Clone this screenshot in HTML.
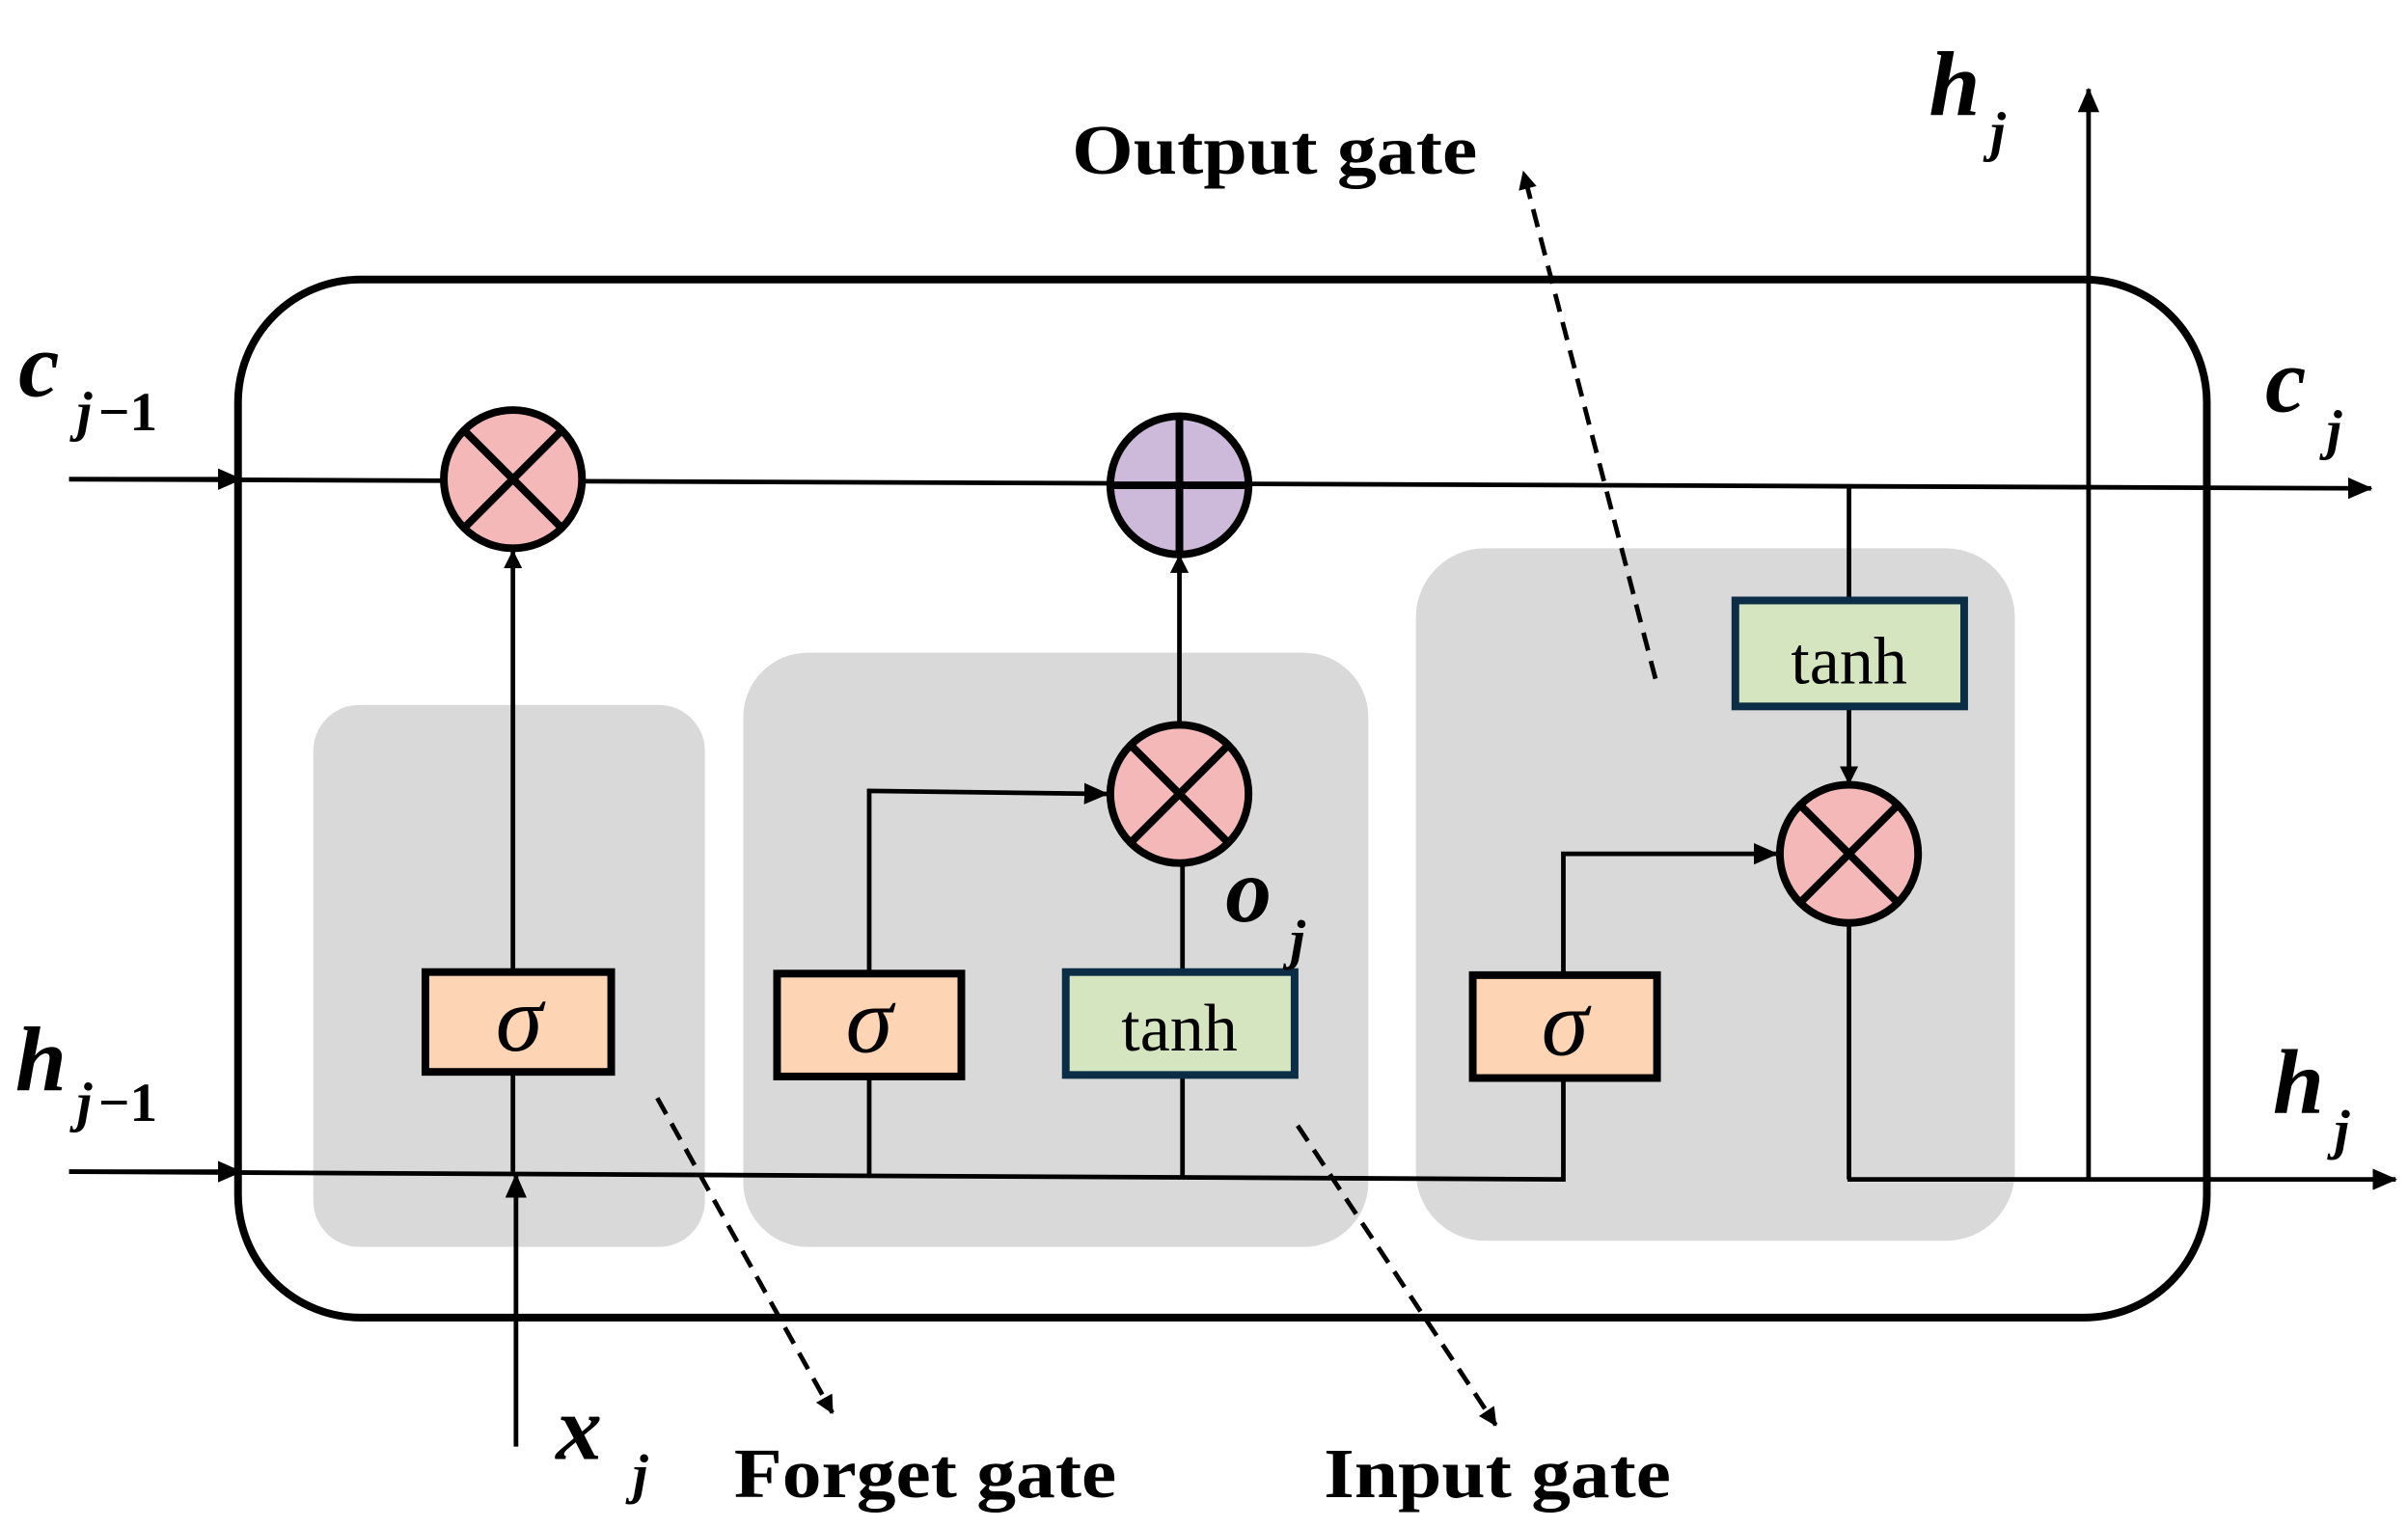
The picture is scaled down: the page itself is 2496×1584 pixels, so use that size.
<!DOCTYPE html>
<html><head><meta charset="utf-8"><style>
html,body{margin:0;padding:0;background:#fff;}
svg{display:block;}
text{font-family:"Liberation Serif",serif;}
</style></head><body>
<svg width="2496" height="1584" viewBox="0 0 1568 995" xmlns="http://www.w3.org/2000/svg">
<defs>
<marker id="a" markerWidth="12" markerHeight="12" refX="11" refY="6" orient="auto" markerUnits="userSpaceOnUse" viewBox="0 0 12 12">
<path d="M0,0 L12,6 L0,12 z" fill="#000"/></marker>
<marker id="b" markerWidth="16" markerHeight="14" refX="15" refY="7" orient="auto" markerUnits="userSpaceOnUse" viewBox="0 0 16 14">
<path d="M0,0 L16,7 L0,14 z" fill="#000"/></marker>
</defs>
<rect x="204" y="459" width="255" height="353" rx="30" fill="#d9d9d9"/>
<rect x="484" y="425" width="407" height="387" rx="42" fill="#d9d9d9"/>
<rect x="922" y="357" width="390" height="451" rx="45" fill="#d9d9d9"/>
<rect x="155" y="182" width="1282" height="676" rx="80" fill="none" stroke="#000" stroke-width="5"/>
<line x1="45" y1="312" x2="1544" y2="318" stroke="#000" stroke-width="3" marker-end="url(#b)"/>
<line x1="45" y1="312" x2="157" y2="312" stroke="#000" stroke-width="3" marker-end="url(#b)"/>
<polyline points="45,763 1018,768 1018,702" fill="none" stroke="#000" stroke-width="3"/>
<line x1="45" y1="763" x2="157" y2="763" stroke="#000" stroke-width="3" marker-end="url(#b)"/>
<line x1="1203" y1="768" x2="1560" y2="768" stroke="#000" stroke-width="3" marker-end="url(#b)"/>
<line x1="1360" y1="768" x2="1360" y2="58" stroke="#000" stroke-width="3" marker-end="url(#b)"/>
<line x1="334" y1="763" x2="334" y2="698" stroke="#000" stroke-width="3"/>
<line x1="334" y1="633" x2="334" y2="359" stroke="#000" stroke-width="3" marker-end="url(#a)"/>
<line x1="336" y1="942" x2="336" y2="765" stroke="#000" stroke-width="3" marker-end="url(#b)"/>
<line x1="566" y1="765" x2="566" y2="701" stroke="#000" stroke-width="3"/>
<polyline points="566,634 566,515 721,517" fill="none" stroke="#000" stroke-width="3" marker-end="url(#b)"/>
<line x1="770" y1="767" x2="770" y2="700" stroke="#000" stroke-width="3"/>
<line x1="770" y1="633" x2="770" y2="562" stroke="#000" stroke-width="3"/>
<line x1="768" y1="472" x2="768" y2="362" stroke="#000" stroke-width="3" marker-end="url(#a)"/>
<polyline points="1018,635 1018,556 1157,556" fill="none" stroke="#000" stroke-width="3" marker-end="url(#b)"/>
<line x1="1204" y1="318" x2="1204" y2="391" stroke="#000" stroke-width="3"/>
<line x1="1204" y1="460" x2="1204" y2="510" stroke="#000" stroke-width="3" marker-end="url(#a)"/>
<line x1="1204" y1="601" x2="1204" y2="768" stroke="#000" stroke-width="3"/>
<g stroke="#000" stroke-width="5">
<circle cx="334" cy="312" r="45" fill="#f4b8b8"/>
<line x1="302" y1="280" x2="366" y2="344"/><line x1="366" y1="280" x2="302" y2="344"/>
<circle cx="768" cy="316" r="45" fill="#cdb9d9"/>
<line x1="723" y1="316" x2="813" y2="316"/><line x1="768" y1="271" x2="768" y2="361"/>
<circle cx="768" cy="517" r="45" fill="#f4b8b8"/>
<line x1="736" y1="485" x2="800" y2="549"/><line x1="800" y1="485" x2="736" y2="549"/>
<circle cx="1204" cy="556" r="45" fill="#f4b8b8"/>
<line x1="1172" y1="524" x2="1236" y2="588"/><line x1="1236" y1="524" x2="1172" y2="588"/>
</g>
<rect x="277" y="633" width="121" height="65" fill="#fdd5b4" stroke="#000" stroke-width="5"/>
<rect x="506" y="634" width="120" height="67" fill="#fdd5b4" stroke="#000" stroke-width="5"/>
<rect x="959" y="635" width="120" height="67" fill="#fdd5b4" stroke="#000" stroke-width="5"/>
<rect x="694" y="633" width="149" height="67" fill="#d4e5c0" stroke="#0b2d45" stroke-width="5"/>
<rect x="1130" y="391" width="149" height="69" fill="#d4e5c0" stroke="#0b2d45" stroke-width="5"/>
<g font-size="62" font-style="italic" text-anchor="middle">
<text x="338" y="684">σ</text><text x="566" y="685">σ</text><text x="1019" y="687">σ</text>
</g>
<g font-size="44" text-anchor="middle">
<text x="768" y="684">tanh</text><text x="1204" y="445">tanh</text>
</g>
<g stroke="#000" stroke-width="3" stroke-dasharray="12,7">
<line x1="1078" y1="442" x2="992" y2="112" marker-end="url(#a)"/>
<line x1="428" y1="715" x2="542" y2="920" marker-end="url(#a)"/>
<line x1="845" y1="733" x2="974" y2="928" marker-end="url(#a)"/>
</g>
<g font-size="46" font-weight="bold">
<text x="698" y="113" textLength="264" lengthAdjust="spacingAndGlyphs">Output gate</text>
<text x="478" y="975" textLength="249" lengthAdjust="spacingAndGlyphs">Forget gate</text>
<text x="862" y="975" textLength="226" lengthAdjust="spacingAndGlyphs">Input gate</text>
</g>
<g font-style="italic" font-weight="bold">
<text x="12" y="258" font-size="60">c</text><text x="50" y="280" font-size="36">j</text><text x="64" y="280" font-size="36" font-style="normal">−1</text>
<text x="10" y="710" font-size="60">h</text><text x="50" y="730" font-size="36">j</text><text x="64" y="730" font-size="36" font-style="normal">−1</text>
<text x="1475" y="268" font-size="60">c</text><text x="1515" y="292" font-size="36">j</text>
<text x="1480" y="725" font-size="60">h</text><text x="1520" y="748" font-size="36">j</text>
<text x="1256" y="75" font-size="60">h</text><text x="1296" y="98" font-size="36">j</text>
<text x="362" y="950" font-size="60">x</text><text x="412" y="972" font-size="36">j</text>
<text x="798" y="600" font-size="60">o</text><text x="840" y="624" font-size="36">j</text>
</g>
</svg>
</body></html>
